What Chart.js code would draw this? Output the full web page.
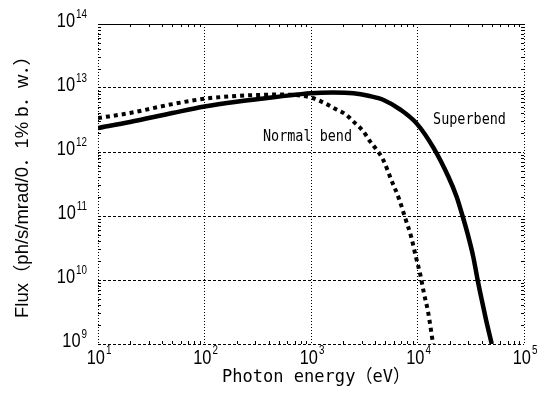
<!DOCTYPE html>
<html>
<head>
<meta charset="utf-8">
<script src="https://cdn.jsdelivr.net/npm/chart.js@4"></script>
<style>
  body { margin: 0; background: #fff; }
</style>
</head>
<body>
<canvas id="chart" width="538" height="398"></canvas>
<script>
// tick values (decades)
const energyTicks = [1e1, 1e2, 1e3, 1e4, 1e5];
const fluxTicks = [1e9, 1e10, 1e11, 1e12, 1e13, 1e14];

// Superbend (solid)
const superEnergy = [10, 20, 50, 100, 200, 500, 1000, 1600, 2500, 3550, 4800, 6900, 9800,
  14100, 19500, 23300, 26500, 30000, 33400, 36700, 40100, 44000, 49800];
const superFlux = [2.37e12, 2.95e12, 4.07e12, 5.13e12, 6.1e12, 7.33e12, 8.3e12, 8.5e12, 8.3e12,
  7.5e12, 6.5e12, 4.6e12, 2.8e12, 1.17e12, 4.1e11, 2.0e11, 1.0e11, 4.8e10, 2.3e10, 1.0e10,
  4.9e9, 2.4e9, 1.0e9];

// Normal bend (dotted)
const normalEnergy = [10, 20, 50, 100, 200, 500, 1000, 1400, 1700, 2100, 2550, 3100, 3600,
  4200, 4750, 5700, 6700, 7700, 8700, 9600, 10600, 11500, 12600, 14000];
const normalFlux = [3.39e12, 4.07e12, 5.6e12, 6.8e12, 7.5e12, 7.9e12, 7.1e12, 5.6e12, 4.7e12,
  3.9e12, 2.9e12, 2.1e12, 1.45e12, 1.05e12, 7.6e11, 3.6e11, 1.86e11, 9.1e10, 4.8e10, 2.4e10,
  1.23e10, 6.2e9, 3.1e9, 1.0e9];

// curve labels, anchored in data coordinates
const curveLabels = [
  { text: "Normal bend", x: 354, y: 1.71e12 },
  { text: "Superbend", x: 14000, y: 3.16e12 }
];

function toPoints(xs, ys) {
  return xs.map((x, i) => ({ x: x, y: ys[i] }));
}

function drawPower(ctx, exp, x, y, align, supOff) {
  const sx = 0.82;
  ctx.font = '20px "Liberation Sans"';
  const bw = ctx.measureText("10").width * sx;
  ctx.font = '12px "Liberation Sans"';
  const ew = ctx.measureText(String(exp)).width * sx;
  const total = bw + ew + 1;
  const left = align === "right" ? x - total : x - total / 2;
  ctx.textAlign = "left";
  ctx.textBaseline = "alphabetic";
  ctx.save();
  ctx.translate(left, y);
  ctx.scale(sx, 1);
  ctx.font = '20px "Liberation Sans"';
  ctx.fillText("10", 0, 0);
  ctx.restore();
  ctx.save();
  ctx.translate(left + bw + 1, y + supOff);
  ctx.scale(sx, 1);
  ctx.font = '12px "Liberation Sans"';
  ctx.fillText(String(exp), 0, 0);
  ctx.restore();
}

// draw text squeezed to a target width
function fitText(ctx, text, font, width) {
  ctx.font = font;
  const w = ctx.measureText(text).width;
  const s = width / w;
  ctx.scale(s, 1);
  ctx.fillText(text, 0, 0);
}

const decorPlugin = {
  id: "decor",
  beforeDraw(chart) {
    const ctx = chart.ctx;
    ctx.save();
    ctx.fillStyle = "#fff";
    ctx.fillRect(0, 0, chart.width, chart.height);
    ctx.restore();
  },
  afterDraw(chart) {
    const ctx = chart.ctx;
    const xs = chart.scales.x, ys = chart.scales.y;
    const a = chart.chartArea;
    ctx.save();
    ctx.strokeStyle = "#000";
    ctx.fillStyle = "#000";
    ctx.lineWidth = 1;

    // top frame line
    ctx.beginPath();
    ctx.moveTo(a.left, a.top + 0.5);
    ctx.lineTo(a.right, a.top + 0.5);
    ctx.stroke();

    // minor ticks
    ctx.beginPath();
    for (let d = 1; d < 5; d++) {
      for (let m = 2; m < 10; m++) {
        const px = Math.round(xs.getPixelForValue(m * Math.pow(10, d))) + 0.5;
        ctx.moveTo(px, a.bottom); ctx.lineTo(px, a.bottom - 3);
        ctx.moveTo(px, a.top); ctx.lineTo(px, a.top + 3);
      }
    }
    for (let d = 9; d < 14; d++) {
      for (let m = 2; m < 10; m++) {
        const py = Math.round(ys.getPixelForValue(m * Math.pow(10, d))) + 0.5;
        ctx.moveTo(a.left, py); ctx.lineTo(a.left + 3, py);
        ctx.moveTo(a.right, py); ctx.lineTo(a.right - 3, py);
      }
    }
    ctx.stroke();

    // tick labels
    energyTicks.forEach(v => {
      drawPower(ctx, Math.round(Math.log10(v)), xs.getPixelForValue(v) + 1, a.bottom + 20, "center", -10);
    });
    fluxTicks.forEach(v => {
      drawPower(ctx, Math.round(Math.log10(v)), a.left - 11, ys.getPixelForValue(v) + 3, "right", -9);
    });

    // axis titles
    ctx.textAlign = "left";
    ctx.textBaseline = "middle";
    ctx.save();
    ctx.translate(222, 377);
    fitText(ctx, "Photon energy（eV）", '18px "DejaVu Sans Mono", "Noto Sans CJK JP"', 188);
    ctx.restore();

    ctx.save();
    ctx.translate(23, 318);
    ctx.rotate(-Math.PI / 2);
    fitText(ctx, "Flux（ph/s/mrad/0．1% b．w．）", '18px "Liberation Sans", "Noto Sans CJK JP"', 271);
    ctx.restore();

    // curve labels
    curveLabels.forEach(l => {
      ctx.save();
      ctx.translate(xs.getPixelForValue(l.x), ys.getPixelForValue(l.y));
      fitText(ctx, l.text, '16px "DejaVu Sans Mono"', l.text.length * 8.1);
      ctx.restore();
    });
    ctx.restore();
  }
};

new Chart(document.getElementById("chart"), {
  type: "scatter",
  data: {
    datasets: [
      {
        label: "Superbend",
        data: toPoints(superEnergy, superFlux),
        showLine: true,
        borderColor: "#000",
        borderWidth: 4.5,
        pointRadius: 0,
        cubicInterpolationMode: "monotone",
        fill: false
      },
      {
        label: "Normal bend",
        data: toPoints(normalEnergy, normalFlux),
        showLine: true,
        borderColor: "#000",
        borderWidth: 4,
        borderDash: [4, 4],
        borderCapStyle: "butt",
        pointRadius: 0,
        cubicInterpolationMode: "monotone",
        fill: false
      }
    ]
  },
  options: {
    responsive: false,
    animation: false,
    layout: { padding: { left: 0, right: 14, top: 24, bottom: 0 } },
    plugins: { legend: { display: false }, tooltip: { enabled: false } },
    scales: {
      x: {
        type: "logarithmic",
        min: 10,
        max: 1e5,
        afterBuildTicks: s => { s.ticks = energyTicks.map(v => ({ value: v })); },
        afterFit: s => { s.height = 54; },
        ticks: { display: false },
        grid: { color: "#000", lineWidth: 1, drawTicks: false },
        border: { display: false, dash: [1, 2] }
      },
      y: {
        type: "logarithmic",
        min: 1e9,
        max: 1e14,
        afterBuildTicks: s => { s.ticks = fluxTicks.map(v => ({ value: v })); },
        afterFit: s => { s.width = 98; },
        ticks: { display: false },
        grid: { color: "#000", lineWidth: 1, drawTicks: false },
        border: { display: false, dash: [3, 2] }
      }
    }
  },
  plugins: [decorPlugin]
});
</script>
</body>
</html>
